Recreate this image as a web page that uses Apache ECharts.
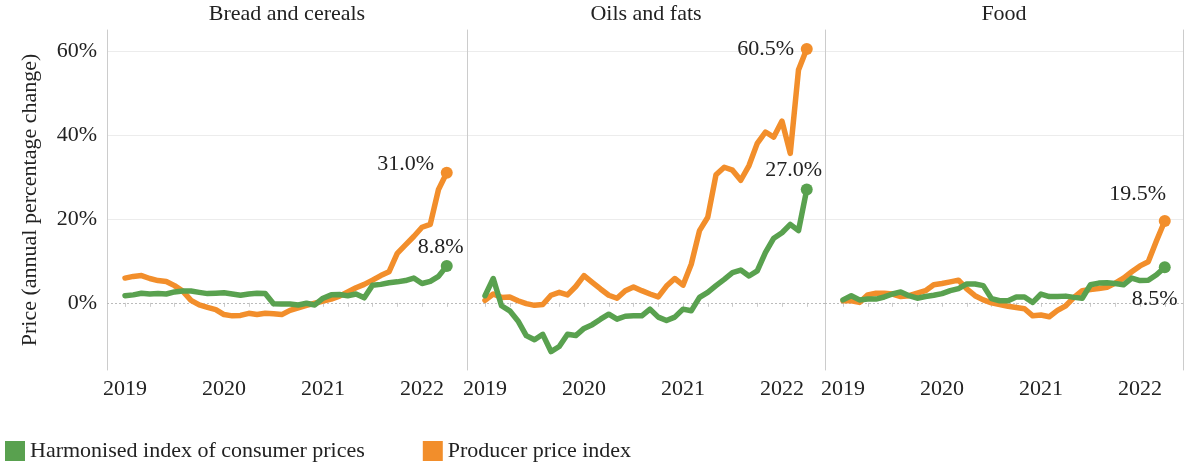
<!DOCTYPE html>
<html>
<head>
<meta charset="utf-8">
<script src="https://cdn.jsdelivr.net/npm/echarts@6/dist/echarts.min.js"></script>
<style>
  html, body { margin: 0; padding: 0; background: #fff; }
  #main { width: 1185px; height: 467px; }
</style>
</head>
<body>
<div id="main"></div>
<script>
// monthly annual % change, Jan 2019 .. Apr 2022
let breadHicp = [1.7, 1.9, 2.3, 2.1, 2.2, 2.1, 2.6, 2.8, 2.8, 2.5, 2.2, 2.3, 2.4, 2.1, 1.8, 2.1, 2.3, 2.2, -0.2, -0.3,
  -0.3, -0.5, -0.1, -0.5, 1.1, 1.9, 2.0, 1.7, 2.1, 1.2, 4.2, 4.4, 4.8, 5.0, 5.3, 5.9, 4.6, 5.1, 6.3, 8.8];
let breadPpi = [5.9, 6.3, 6.5, 5.8, 5.3, 5.1, 4.1, 2.8, 0.6, -0.5, -1.1, -1.6, -2.8, -3.1, -3.0, -2.5, -2.8, -2.5, -2.6, -2.8,
  -1.8, -1.2, -0.6, -0.1, 0.4, 0.9, 1.6, 2.6, 3.6, 4.4, 5.4, 6.5, 7.4, 11.8, 13.8, 15.8, 18.0, 18.7, 27.0, 31.0];
let oilsHicp = [1.7, 5.8, -0.7, -1.9, -4.3, -7.8, -8.8, -7.5, -11.6, -10.4, -7.5, -7.8, -6.1, -5.2, -3.9, -2.7, -3.9, -3.2, -3.1, -3.1,
  -1.5, -3.4, -4.2, -3.4, -1.5, -1.9, 1.3, 2.5, 4.1, 5.6, 7.2, 7.8, 6.4, 7.6, 12.0, 15.4, 16.7, 18.7, 17.2, 27.0];
let oilsPpi = [0.6, 2.1, 1.3, 1.4, 0.5, -0.2, -0.6, -0.4, 1.8, 2.5, 1.9, 3.9, 6.5, 4.9, 3.3, 1.8, 1.1, 2.9, 3.8, 2.9,
  2.1, 1.4, 4.0, 5.8, 4.2, 9.2, 17.2, 20.4, 30.5, 32.3, 31.6, 29.2, 32.7, 38.0, 40.7, 39.5, 43.3, 35.6, 55.5, 60.5];
let foodHicp = [0.7, 1.7, 0.7, 0.9, 0.9, 1.4, 2.1, 2.6, 1.7, 1.1, 1.5, 1.8, 2.2, 2.9, 3.4, 4.5, 4.5, 4.1, 1.0, 0.5,
  0.5, 1.4, 1.4, 0.1, 2.1, 1.5, 1.5, 1.6, 1.3, 1.1, 4.3, 4.7, 4.8, 4.6, 4.3, 5.9, 5.3, 5.4, 6.7, 8.5];
let foodPpi = [0.5, 0.5, 0.1, 1.9, 2.3, 2.3, 2.1, 1.5, 1.7, 2.3, 2.9, 4.3, 4.6, 5.0, 5.4, 3.3, 1.7, 0.7, 0.0, -0.4,
  -0.8, -1.1, -1.4, -3.1, -2.9, -3.3, -1.8, -0.7, 1.3, 2.9, 3.2, 3.4, 3.7, 4.7, 5.9, 7.4, 8.8, 9.8, 14.8, 19.5];

let panelTitles = ["Bread and cereals", "Oils and fats", "Food"];
let seriesNames = ["Harmonised index of consumer prices", "Producer price index"];
let firstYear = 2019;
let yearTicks = [0, 12, 24, 36]; // month index of Jan each year
let quarterTicks = [0, 3, 6, 9, 12, 15, 18, 21, 24, 27, 30, 33, 36, 39];
let yTicks = [0, 20, 40, 60];
let yGrid = [20, 40, 60];

let panels = [
  { hicp: breadHicp, ppi: breadPpi, left: 107, width: 360,
    hicpLabel: [-6, 3], ppiLabel: [-41, 14] },
  { hicp: oilsHicp, ppi: oilsPpi, left: 467, width: 358,
    hicpLabel: [-13, 3], ppiLabel: [-41, 22] },
  { hicp: foodHicp, ppi: foodPpi, left: 825, width: 358,
    hicpLabel: [-10, 54], ppiLabel: [-27, -5] },
];

let green = "#59A14F";
let orange = "#F28E2B";
let font = "'Liberation Serif', 'Times New Roman', serif";
let pxPerMonth = 8.25;
let padLeft = 18;

let toData = (vals, offset) =>
  vals.map((v, i) => {
    if (i < vals.length - 1) return [i, v];
    return {
      value: [i, v],
      symbol: "circle",
      symbolSize: 12,
      label: {
        show: true,
        position: "top",
        offset: offset,
        formatter: v.toFixed(1) + "%",
        fontFamily: font,
        fontSize: 22,
        color: "#222",
      },
    };
  });

let grid = [], xAxis = [], yAxis = [], series = [], title = [];

panels.forEach((p, k) => {
  grid.push({ left: p.left, width: p.width, top: 30, height: 340 });
  title.push({
    text: panelTitles[k],
    left: p.left + p.width / 2,
    textAlign: "center",
    top: 3,
    padding: 0,
    textStyle: { fontFamily: font, fontSize: 22, fontWeight: "normal", color: "#222" },
  });
  let xmin = -padLeft / pxPerMonth;
  xAxis.push({
    type: "value",
    gridIndex: k,
    min: xmin,
    max: xmin + p.width / pxPerMonth,
    splitLine: { show: false },
    axisLine: { show: false },
    axisTick: { show: true, length: 4, customValues: quarterTicks, lineStyle: { color: "#ccc" } },
    axisLabel: {
      customValues: yearTicks,
      margin: 8,
      formatter: (v) => String(firstYear + Math.round(v / 12)),
      fontFamily: font, fontSize: 22, color: "#222",
    },
  });
  yAxis.push({
    type: "value",
    gridIndex: k,
    min: -16,
    max: 65,
    name: k === 0 ? "Price (annual percentage change)" : "",
    nameLocation: "middle",
    nameGap: 66,
    nameTextStyle: { fontFamily: font, fontSize: 22, color: "#222" },
    axisLine: { show: true, onZero: false, lineStyle: { color: "#ccc" } },
    axisTick: { show: false, customValues: yGrid },
    splitLine: { show: true, lineStyle: { color: "#ececec" } },
    axisLabel: {
      show: k === 0,
      customValues: yTicks,
      margin: 10,
      formatter: (v) => v + "%",
      fontFamily: font, fontSize: 22, color: "#222",
    },
  });
  series.push({
    name: seriesNames[0],
    type: "line",
    xAxisIndex: k,
    yAxisIndex: k,
    data: toData(p.hicp, p.hicpLabel),
    symbol: "none",
    color: green,
    lineStyle: { width: 5.5, cap: "round", join: "round" },
    z: 3,
    markLine: {
      silent: true,
      symbol: "none",
      label: { show: false },
      lineStyle: { color: "#bbb", type: [2, 2], width: 1 },
      data: [{ yAxis: 0 }],
      z: 1,
    },
  });
  series.push({
    name: seriesNames[1],
    type: "line",
    xAxisIndex: k,
    yAxisIndex: k,
    data: toData(p.ppi, p.ppiLabel),
    symbol: "none",
    color: orange,
    lineStyle: { width: 5.5, cap: "round", join: "round" },
    z: 2,
  });
});

// right edge line of last panel
yAxis.push({
  type: "value",
  gridIndex: 2,
  position: "right",
  min: -16,
  max: 65,
  axisLine: { show: true, onZero: false, lineStyle: { color: "#ccc" } },
  axisTick: { show: false },
  axisLabel: { show: false },
  splitLine: { show: false },
});

let option = {
  animation: false,
  backgroundColor: "#fff",
  title: title,
  grid: grid,
  xAxis: xAxis,
  yAxis: yAxis,
  legend: {
    data: seriesNames,
    left: 5,
    top: 440,
    padding: 0,
    icon: "rect",
    itemWidth: 20,
    itemHeight: 20,
    itemGap: 58,
    textStyle: { fontFamily: font, fontSize: 22, color: "#222" },
  },
  series: series,
};

let chart = echarts.init(document.getElementById("main"), null, { renderer: "canvas" });
chart.setOption(option);
</script>
</body>
</html>
